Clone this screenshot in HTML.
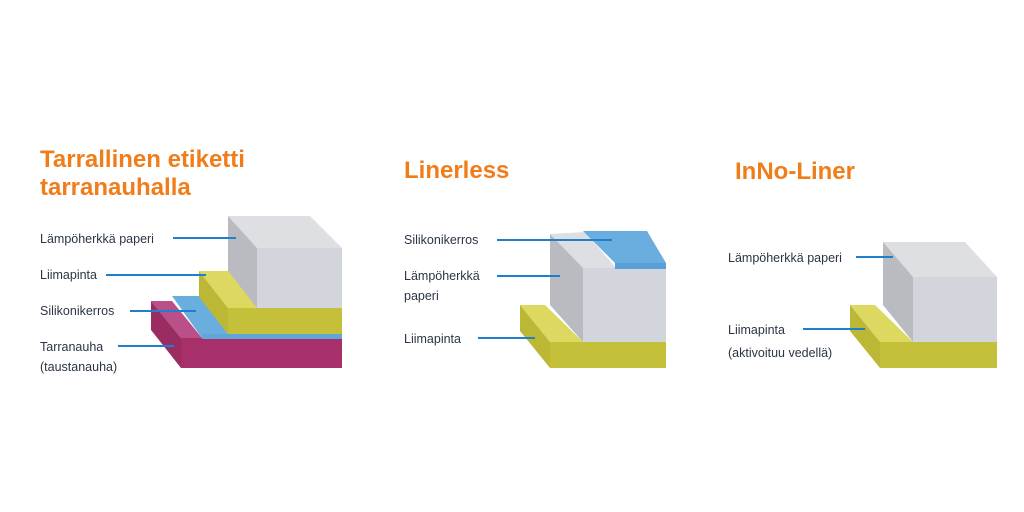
<!DOCTYPE html>
<html><head><meta charset="utf-8"><style>
html,body{margin:0;padding:0;background:#fff;}
svg{display:block}
.t{font-family:"Liberation Sans",sans-serif;font-weight:bold;font-size:24px;fill:#f07d1a}
.l{font-family:"Liberation Sans",sans-serif;font-size:12.5px;fill:#2b3546}
.ln{stroke:#1f7fcf;stroke-width:2}
</style></head><body>
<svg width="1024" height="512" viewBox="0 0 1024 512">
<rect width="1024" height="512" fill="#fff"/>
<!-- Panel 1 -->
<text class="t" x="40" y="167">Tarrallinen etiketti</text>
<text class="t" x="40" y="195">tarranauhalla</text>
<polygon points="151,301 172,301 202,338 181,338" fill="#b9508a"/>
<polygon points="151,301 181,338 181,368 151,330" fill="#9b2c62"/>
<rect x="181" y="338" width="161" height="30" fill="#a8306a"/>
<polygon points="172,296 199,296 228,334 202,338" fill="#6aaee0"/>
<rect x="202" y="334" width="140" height="5" fill="#5fa6dc"/>
<polygon points="199,271 228,271 258,308 228,308" fill="#dcd860"/>
<polygon points="199,271 228,308 228,334 199,297" fill="#bcb836"/>
<rect x="228" y="308" width="114" height="26" fill="#c5c03a"/>
<polygon points="228,216 310,216 342,248 257,248" fill="#dedfe2"/>
<polygon points="228,216 257,248 257,308 228,271" fill="#b9bbc0"/>
<rect x="257" y="248" width="85" height="60" fill="#d2d5db"/>
<text class="l" x="40" y="243">Lämpöherkkä paperi</text>
<line class="ln" x1="173" y1="238" x2="236" y2="238"/>
<text class="l" x="40" y="279">Liimapinta</text>
<line class="ln" x1="106" y1="275" x2="206" y2="275"/>
<text class="l" x="40" y="315">Silikonikerros</text>
<line class="ln" x1="130" y1="311" x2="196" y2="311"/>
<text class="l" x="40" y="351">Tarranauha</text>
<text class="l" x="40" y="371">(taustanauha)</text>
<line class="ln" x1="118" y1="346" x2="174" y2="346"/>

<!-- Panel 2 -->
<text class="t" x="404" y="178">Linerless</text>
<polygon points="520,305 545,305 583,342 550,342" fill="#dcd860"/>
<polygon points="520,305 550,342 550,368 520,331" fill="#bcb836"/>
<rect x="550" y="342" width="116" height="26" fill="#c5c03a"/>
<polygon points="550,234 585,232 617,269 583,269" fill="#dedfe2"/>
<polygon points="550,234 583,268 583,342 550,305" fill="#b9bbc0"/>
<rect x="583" y="268" width="83" height="74" fill="#d2d5db"/>
<polygon points="583,231 647,231 666,263 615,263" fill="#6aaee0"/>
<rect x="615" y="263" width="51" height="6" fill="#5a9fd8"/>
<text class="l" x="404" y="244">Silikonikerros</text>
<line class="ln" x1="497" y1="240" x2="612" y2="240"/>
<text class="l" x="404" y="280">Lämpöherkkä</text>
<text class="l" x="404" y="300">paperi</text>
<line class="ln" x1="497" y1="276" x2="560" y2="276"/>
<text class="l" x="404" y="343">Liimapinta</text>
<line class="ln" x1="478" y1="338" x2="535" y2="338"/>

<!-- Panel 3 -->
<text class="t" x="735" y="179">InNo-Liner</text>
<polygon points="850,305 875,305 913,342 880,342" fill="#dcd860"/>
<polygon points="850,305 880,342 880,368 850,331" fill="#bcb836"/>
<rect x="880" y="342" width="117" height="26" fill="#c5c03a"/>
<polygon points="883,242 965,242 997,277 913,277" fill="#dedfe2"/>
<polygon points="883,242 913,277 913,342 883,305" fill="#b9bbc0"/>
<rect x="913" y="277" width="84" height="65" fill="#d2d5db"/>
<text class="l" x="728" y="262">Lämpöherkkä paperi</text>
<line class="ln" x1="856" y1="257" x2="893" y2="257"/>
<text class="l" x="728" y="334">Liimapinta</text>
<text class="l" x="728" y="357">(aktivoituu vedellä)</text>
<line class="ln" x1="803" y1="329" x2="865" y2="329"/>
</svg>
</body></html>
